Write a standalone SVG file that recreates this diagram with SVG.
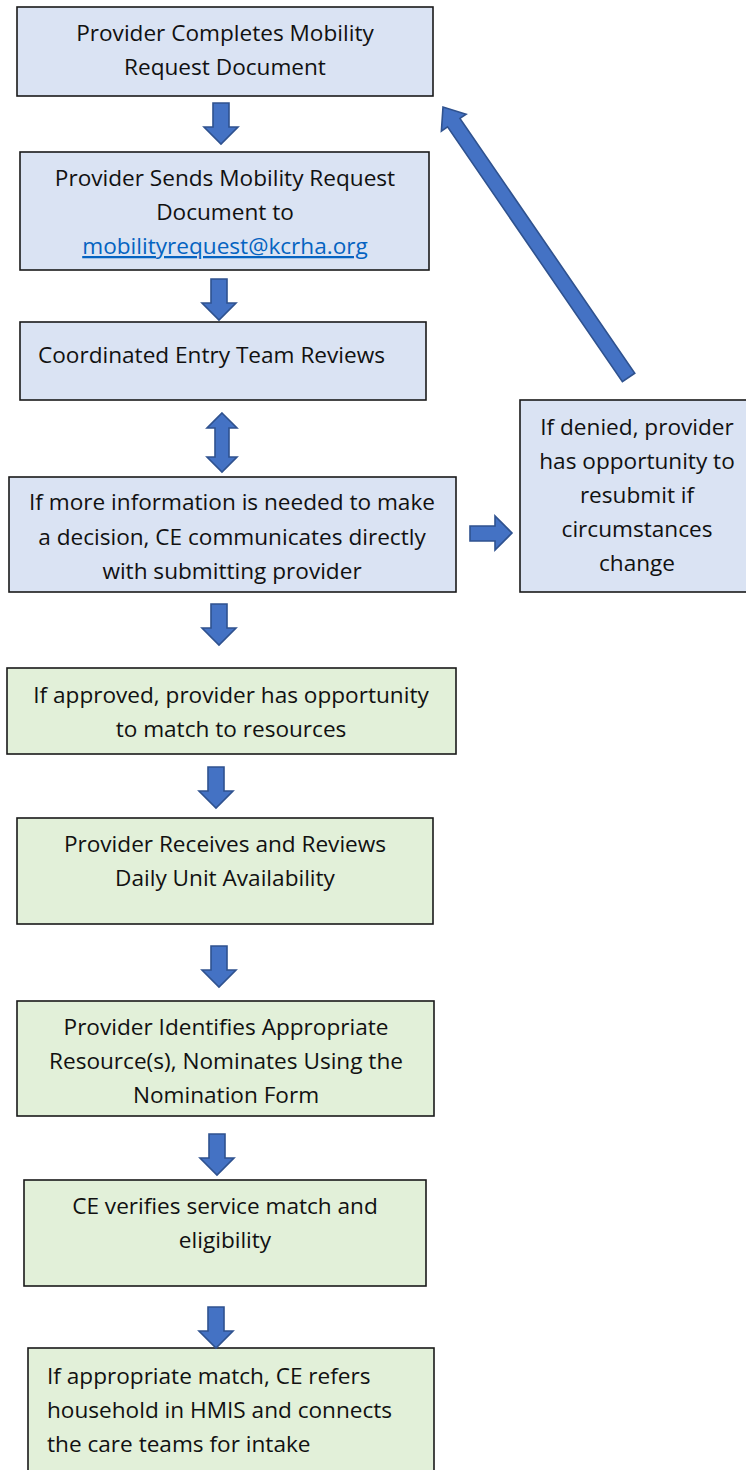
<svg xmlns="http://www.w3.org/2000/svg" width="746" height="1470" viewBox="0 0 746 1470">
<style>
.blue{fill:#DAE3F3;stroke:#1a1a1a;stroke-width:1.6}
.green{fill:#E2F0D9;stroke:#1a1a1a;stroke-width:1.6}
text{font-family:"Open Sans",Lato,"Liberation Sans",sans-serif;font-size:22.6px;fill:#111}
.c{text-anchor:middle}
.link{fill:#0563C1;text-decoration:underline}
.arr{fill:#4472C4;stroke:#2F528F;stroke-width:1.6;stroke-linejoin:miter}
</style>
<defs>
<path id="down" d="M-8,-41 H8 V-17 H17 L0,0 L-17,-17 H-8 Z"/>
</defs>
<rect width="746" height="1470" fill="#fff"/>
<g id="n1"><rect class="blue" x="17" y="7" width="416" height="89"/>
<text class="c" x="225" y="41">Provider Completes Mobility</text>
<text class="c" x="225" y="75">Request Document</text></g>
<g id="n2"><rect class="blue" x="20" y="152" width="409" height="118"/>
<text class="c" x="225" y="186">Provider Sends Mobility Request</text>
<text class="c" x="225" y="220">Document to</text>
<text class="c link" x="225" y="254">mobilityrequest@kcrha.org</text></g>
<g id="n3"><rect class="blue" x="20" y="322" width="406" height="78"/>
<text x="38" y="363">Coordinated Entry Team Reviews</text></g>
<g id="n4"><rect class="blue" x="9" y="477" width="447" height="115"/>
<text class="c" x="232" y="510">If more information is needed to make</text>
<text class="c" x="232" y="545">a decision, CE communicates directly</text>
<text class="c" x="232" y="579">with submitting provider</text></g>
<g id="n5"><rect class="blue" x="520" y="400" width="240" height="192"/>
<text class="c" x="637" y="435">If denied, provider</text>
<text class="c" x="637" y="469">has opportunity to</text>
<text class="c" x="637" y="503">resubmit if</text>
<text class="c" x="637" y="537">circumstances</text>
<text class="c" x="637" y="571">change</text></g>
<g id="n6"><rect class="green" x="7" y="668" width="449" height="86"/>
<text class="c" x="231" y="703">If approved, provider has opportunity</text>
<text class="c" x="231" y="737">to match to resources</text></g>
<g id="n7"><rect class="green" x="17" y="818" width="416" height="106"/>
<text class="c" x="225" y="852">Provider Receives and Reviews</text>
<text class="c" x="225" y="886">Daily Unit Availability</text></g>
<g id="n8"><rect class="green" x="17" y="1001" width="417" height="115"/>
<text class="c" x="226" y="1035">Provider Identifies Appropriate</text>
<text class="c" x="226" y="1069">Resource(s), Nominates Using the</text>
<text class="c" x="226" y="1103">Nomination Form</text></g>
<g id="n9"><rect class="green" x="24" y="1180" width="402" height="106"/>
<text class="c" x="225" y="1214">CE verifies service match and</text>
<text class="c" x="225" y="1248">eligibility</text></g>
<g id="n10"><rect class="green" x="28" y="1348" width="406" height="140"/>
<text x="47" y="1384">If appropriate match, CE refers</text>
<text x="47" y="1418">household in HMIS and connects</text>
<text x="47" y="1452">the care teams for intake</text></g>
<g id="connectors">
<use href="#down" class="arr" x="221" y="144"/>
<use href="#down" class="arr" x="219" y="320"/>
<path class="arr" d="M222,413 L237,428 H229 V457 H237 L222,472 L207,457 H215 V428 H207 Z"/>
<path class="arr" d="M470,526 H495 V516 L512,533 L495,550 V541 H470 Z"/>
<use href="#down" class="arr" x="219" y="645"/>
<use href="#down" class="arr" x="216" y="808"/>
<use href="#down" class="arr" x="219" y="987"/>
<use href="#down" class="arr" x="217" y="1175"/>
<use href="#down" class="arr" x="216" y="1348"/>
<path class="arr" transform="translate(443,107) rotate(-124.46)" d="M0,0 L-19,-15 V-7.5 H-328 V7.5 H-19 V15 Z"/>
</g>
</svg>
